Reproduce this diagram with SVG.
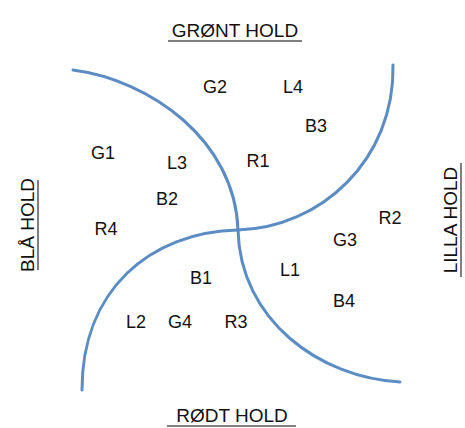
<svg xmlns="http://www.w3.org/2000/svg" width="465" height="428" viewBox="0 0 465 428">
<style>
.lbl{font-family:"Liberation Sans",Arial,sans-serif;font-size:18px;fill:#111;text-anchor:middle}
.ttl{font-family:"Liberation Sans",Arial,sans-serif;font-size:19px;fill:#111;text-anchor:middle}
.ul{stroke:#555;stroke-width:1.5}
.arc{fill:none;stroke:#5b8cc4;stroke-width:3;stroke-linecap:round}
</style>
<rect width="465" height="428" fill="#fff"/>
<g id="connectors">
<path class="arc" d="M73,70 C150,80 235,140 238,230"/>
<path class="arc" d="M238,230 C240,320 320,378 400,382"/>
<path class="arc" d="M393,65 C395,160 320,228 238,230"/>
<path class="arc" d="M238,230 C150,232 82,290 82,390"/>
</g>
<g id="title-green"><text class="ttl" x="235" y="37">GRØNT HOLD</text><line class="ul" x1="168" y1="41" x2="302" y2="41"/></g>
<g id="title-red"><text class="ttl" x="232" y="422">RØDT HOLD</text><line class="ul" x1="167" y1="426" x2="296" y2="426"/></g>
<g id="title-blue"><text class="ttl" transform="translate(34,225) rotate(-90)" x="0" y="0">BLÅ HOLD</text><line class="ul" x1="38" y1="180" x2="38" y2="270"/></g>
<g id="title-purple"><text class="ttl" transform="translate(457,220) rotate(-90)" x="0" y="0">LILLA HOLD</text><line class="ul" x1="461" y1="163" x2="461" y2="277"/></g>
<g id="G2"><text class="lbl" x="215" y="93">G2</text></g>
<g id="L4"><text class="lbl" x="293" y="93">L4</text></g>
<g id="B3"><text class="lbl" x="316" y="132">B3</text></g>
<g id="G1"><text class="lbl" x="103" y="159">G1</text></g>
<g id="L3"><text class="lbl" x="177" y="169">L3</text></g>
<g id="R1"><text class="lbl" x="258" y="167">R1</text></g>
<g id="B2"><text class="lbl" x="167" y="205">B2</text></g>
<g id="R4"><text class="lbl" x="106" y="235">R4</text></g>
<g id="R2"><text class="lbl" x="390" y="224">R2</text></g>
<g id="G3"><text class="lbl" x="345" y="246">G3</text></g>
<g id="L1"><text class="lbl" x="290" y="276">L1</text></g>
<g id="B1"><text class="lbl" x="201" y="284">B1</text></g>
<g id="B4"><text class="lbl" x="344" y="307">B4</text></g>
<g id="L2"><text class="lbl" x="136" y="328">L2</text></g>
<g id="G4"><text class="lbl" x="180" y="328">G4</text></g>
<g id="R3"><text class="lbl" x="236" y="328">R3</text></g>
</svg>
